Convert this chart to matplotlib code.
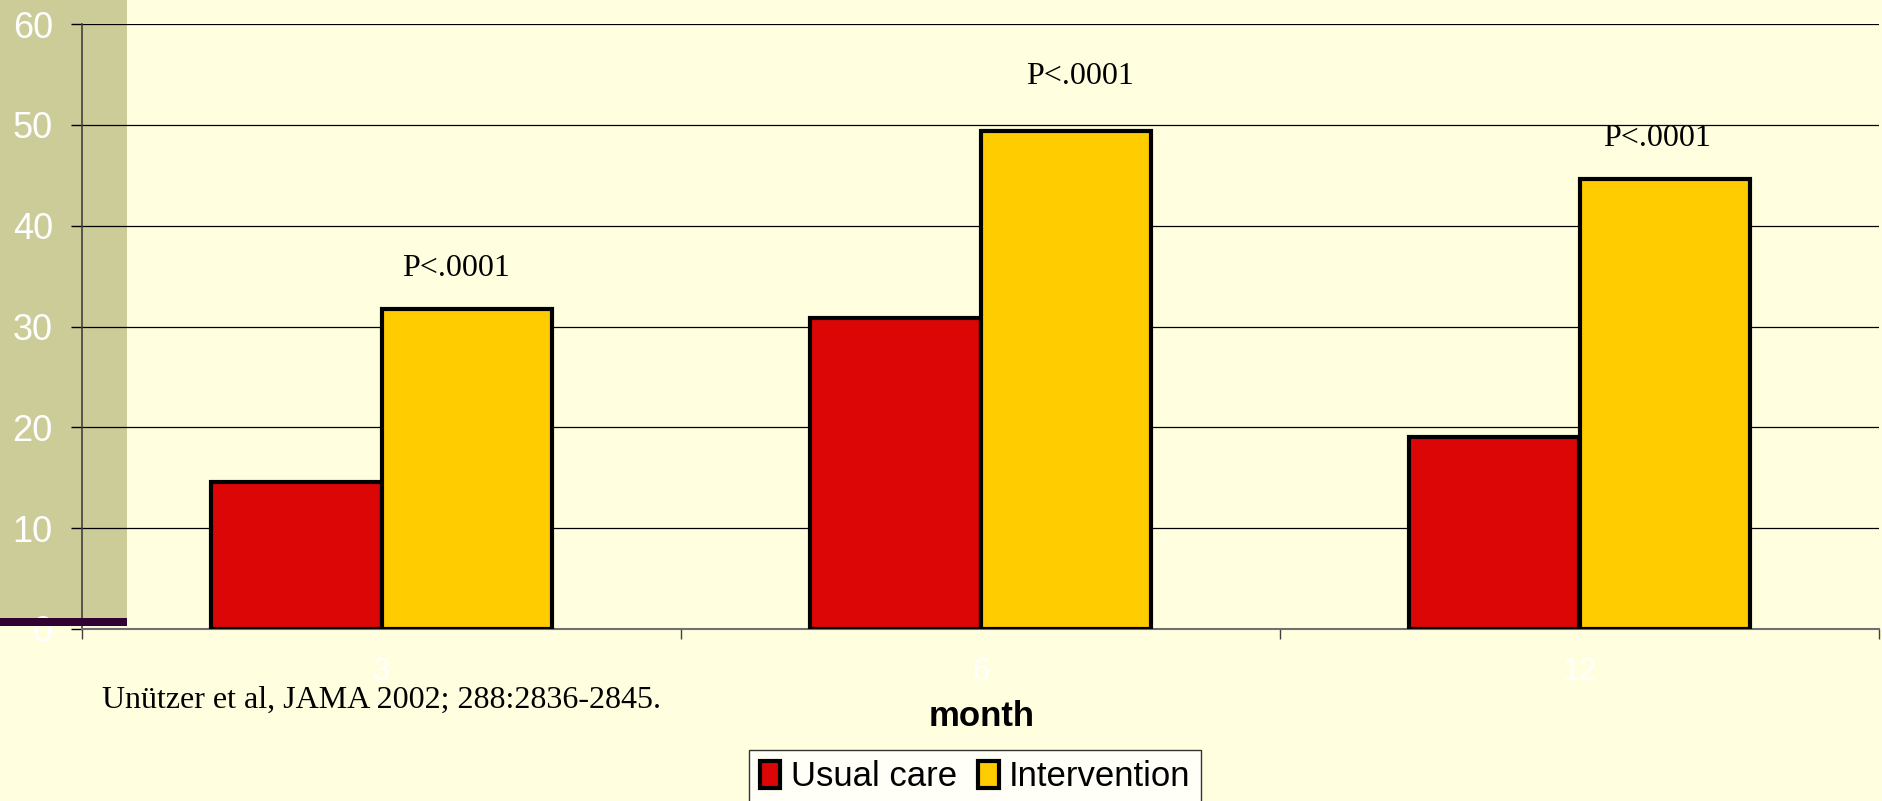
import numpy as np
import matplotlib
matplotlib.use("Agg")
import matplotlib.pyplot as plt
from matplotlib.patches import Rectangle

months = ["3", "6", "12"]
usual_care = [14.6, 30.8, 19.0]
intervention = [31.7, 49.4, 44.6]
p_labels = ["P<.0001", "P<.0001", "P<.0001"]
y_ticks = [0, 10, 20, 30, 40, 50, 60]

bg = "#FFFFE0"
red = "#DD0606"
yellow = "#FFCC00"

fig = plt.figure(figsize=(18.82, 8.01), dpi=100, facecolor=bg)

# tan side panel behind the axes, purple strip on top of it
fig.patches.append(Rectangle((0, 0.218), 127 / 1882, 0.782, transform=fig.transFigure,
                             facecolor="#CCCC99", edgecolor="none", zorder=-1))
fig.patches.append(Rectangle((0, 175 / 801), 127 / 1882, 8 / 801, transform=fig.transFigure,
                             facecolor="#330033", edgecolor="none", zorder=5))

ax = fig.add_axes([82 / 1882, 172 / 801, 1797 / 1882, 605 / 801])
ax.set_facecolor("none")

x = np.arange(len(months))
w = 0.285
ax.bar(x - w / 2, usual_care, w, color=red, edgecolor="black", linewidth=3,
       label="Usual care", zorder=3)
ax.bar(x + w / 2, intervention, w, color=yellow, edgecolor="black", linewidth=3,
       label="Intervention", zorder=3)

label_y = [35.8, 54.8, 48.6]
label_dx = [-0.018, 0.024, -0.014]
for i, txt in enumerate(p_labels):
    ax.text(x[i] + w / 2 + label_dx[i], label_y[i], txt, ha="center", va="center",
            family="Liberation Serif", fontsize=23, color="black")

ax.set_xlim(-0.5, len(months) - 0.5)
ax.set_ylim(0, 60)
ax.set_yticks(y_ticks)
ax.set_yticklabels([str(t) for t in y_ticks], family="Liberation Sans", fontsize=26, color="white")
ax.tick_params(axis="y", length=8, width=1, color="black", direction="out", pad=13)
ax.yaxis.grid(True, color="black", linewidth=0.9, zorder=0)
ax.set_axisbelow(True)

ax.set_xticks(x)
ax.set_xticklabels(months, family="Liberation Sans", fontsize=22, color="white")
ax.tick_params(axis="x", which="major", length=0, pad=20)
ax.set_xticks(np.arange(-0.5, len(months)), minor=True)
ax.tick_params(axis="x", which="minor", length=7, width=1, color="#404040", direction="out")

for s in ["top", "right"]:
    ax.spines[s].set_visible(False)
ax.spines["left"].set_color("#404040")
ax.spines["left"].set_linewidth(1.2)
ax.spines["bottom"].set_color("#707070")
ax.spines["bottom"].set_linewidth(1.5)

fig.text(818 * 1.2 / 1882, 1 - 716 / 801, "month", ha="center", va="center",
         family="Liberation Sans", fontweight="bold", fontsize=25)
fig.text(102 / 1882, 1 - 700 / 801, "Unützer et al, JAMA 2002; 288:2836-2845.", ha="left",
         va="center", family="Liberation Serif", fontsize=23)

leg = fig.legend(loc="upper center", bbox_to_anchor=(975 / 1882, 1 - 750 / 801), ncol=2,
                 frameon=True, fancybox=False, prop={"family": "Liberation Sans", "size": 25},
                 handlelength=0.6, handleheight=0.8, handletextpad=0.3, columnspacing=0.6,
                 borderpad=0.3, borderaxespad=0)
leg.get_frame().set_edgecolor("black")
leg.get_frame().set_facecolor("white")
leg.get_frame().set_linewidth(1)

fig.savefig("out.png", dpi=100, facecolor=bg)
